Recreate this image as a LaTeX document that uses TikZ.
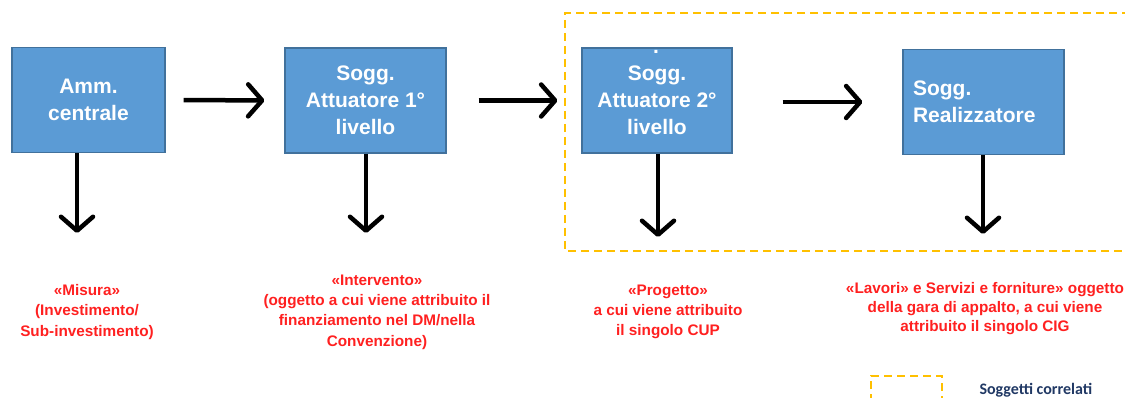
\documentclass[tikz,border=0pt]{standalone}
\usepackage{fontspec}
\setmainfont{Liberation Sans}
\newfontfamily\legendfont{Carlito}
\usepackage{xcolor}
\usetikzlibrary{arrows.meta,positioning}

\definecolor{boxblue}{HTML}{5B9BD5}
\definecolor{boxedge}{HTML}{41719C}
\definecolor{dashorange}{HTML}{FFC000}
\definecolor{notered}{HTML}{FF2020}
\definecolor{legendnavy}{HTML}{203864}

\begin{document}
\begin{tikzpicture}[
    x=1pt, y=-1pt,
    entity/.style={rectangle, draw=boxedge, line width=1.2pt, fill=boxblue, minimum height=105pt, inner sep=0pt, align=center, text=white, font=\bfseries\fontsize{21}{27}\selectfont},
    note/.style={align=center, text=notered, font=\bfseries\fontsize{15.3}{20.3}\selectfont},
    arrow/.style={line width=4.5pt, -{Straight Barb[length=14pt,width=32pt,round]}},
    group/.style={draw=dashorange, line width=2.2pt, dash pattern=on 8pt off 5pt}
]
    \useasboundingbox (0,0) rectangle (1125,398);

    % soggetti correlati
    \draw[group] (1130,13) -- (565,13) -- (565,251) -- (1130,251);

    \node[entity, minimum width=153pt] (amm) at (88.5,100) {Amm.\\centrale};
    \node[entity, minimum width=161pt] (att1) at (365.5,100.5) {Sogg.\\Attuatore 1°\\livello};
    \node[entity, minimum width=150pt] (att2) at (657,100.5) {Sogg.\\Attuatore 2°\\livello};
    \node[anchor=base, text=white, font=\bfseries\fontsize{21}{27}\selectfont, inner sep=0pt] (att2dot) at (656,54) {.};
    \node[entity, minimum width=161pt, text width=141pt, align=left] (real) at (983.5,102) {Sogg.\\Realizzatore};

    \node[note] (misura) at (87,312) {«Misura»\\(Investimento/\\Sub-investimento)};
    \node[note] (interv) at (377,312) {«Intervento»\\(oggetto a cui viene attribuito il\\finanziamento nel DM/nella\\Convenzione)};
    \node[note] (prog) at (668,312) {«Progetto»\\a cui viene attribuito\\il singolo CUP};
    \node[note, font=\bfseries\fontsize{15.3}{19}\selectfont] (lavori) at (985,309) {«Lavori» e Servizi e forniture» oggetto\\della gara di appalto, a cui viene\\attribuito il singolo CIG};

    \coordinate (ammEnd) at (77,233);
    \coordinate (att1End) at (366,233);
    \coordinate (att2End) at (658,237);
    \coordinate (realEnd) at (983,234);

    \draw[arrow, shorten <=18pt, shorten >=20pt] (amm.east) -- (att1.west);
    \draw[arrow, shorten <=32pt, shorten >=24pt] (att1.east) -- (att2.west);
    \draw[arrow, shorten <=50pt, shorten >=40pt] (att2.east |- real.west) -- (real.west);

    \draw[arrow] (amm.south -| ammEnd) -- (ammEnd);
    \draw[arrow] (att1.south -| att1End) -- (att1End);
    \draw[arrow] (att2.south -| att2End) -- (att2End);
    \draw[arrow] (real.south -| realEnd) -- (realEnd);

    % legenda
    \draw[group] (871,402) -- (871,376) -- (942,376) -- (942,402);
    \node[anchor=west, text=legendnavy, font=\legendfont\bfseries\fontsize{16}{19}\selectfont] (legend) at (976,390) {Soggetti correlati};
\end{tikzpicture}
\end{document}
